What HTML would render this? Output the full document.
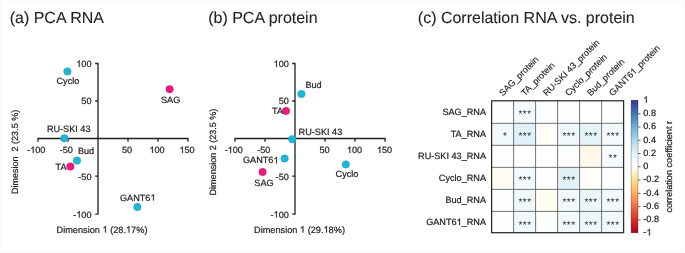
<!DOCTYPE html>
<html><head><meta charset="utf-8"><title>PCA and correlation</title>
<style>
html,body{margin:0;padding:0;background:#fbfbfb;}
body{width:685px;height:253px;overflow:hidden;font-family:"Liberation Sans",sans-serif;}
svg{display:block;will-change:transform;font-family:"Liberation Sans",sans-serif;}
text{fill:#231f20;white-space:pre;text-rendering:geometricPrecision;}
.t{font-size:16px;stroke:#231f20;stroke-width:0.1px;}
.s{font-size:9.15px;stroke:#231f20;stroke-width:0.22px;}
.ax{stroke:#231f20;stroke-width:1.3;fill:none;}
.h{fill:none;stroke:none;}
.one{fill:#231f20;stroke:#231f20;stroke-width:0.3px;}
.st{font-size:10px;text-anchor:middle;letter-spacing:0.5px;fill:#2e2e2e;}
</style></head><body>
<svg width="685" height="253" viewBox="0 0 685 253">
<rect x="2" y="1.5" width="681.5" height="249.5" fill="#ffffff"></rect>

<g transform="translate(-0.5 0)">
<text class="t" x="10.2" y="23">(a) PCA RNA</text>
<path class="ax" transform="translate(0.5 0)" d="M38 141.7V138.5H188V141.7M68 138.5v3.2M128 138.5v3.2M158 138.5v3.2M95.2 63.5H98V214.1H95.2M98 101h-2.8M98 176.2h-2.8"></path>
<text class="s" x="36.8" y="153" text-anchor="middle">-<tspan class="h">1</tspan>00</text><path class="one" d="M763 0H583V1147Q518 1085 412.5 1023T223 930V1104Q373 1174.5 485.5 1275T647 1466H763Z" vector-effect="non-scaling-stroke" transform="translate(30.706 153.000) scale(0.004468 -0.004468)" style="stroke-width: 0.22px;"></path>
<text class="s" x="66.8" y="153" text-anchor="middle">-50</text>
<text class="s" x="127.5" y="153" text-anchor="middle">50</text>
<text class="s" x="157.5" y="153" text-anchor="middle"><tspan class="h">1</tspan>00</text><path class="one" d="M763 0H583V1147Q518 1085 412.5 1023T223 930V1104Q373 1174.5 485.5 1275T647 1466H763Z" vector-effect="non-scaling-stroke" transform="translate(149.883 153.000) scale(0.004468 -0.004468)" style="stroke-width: 0.22px;"></path>
<text class="s" x="187.5" y="153" text-anchor="middle"><tspan class="h">1</tspan>50</text><path class="one" d="M763 0H583V1147Q518 1085 412.5 1023T223 930V1104Q373 1174.5 485.5 1275T647 1466H763Z" vector-effect="non-scaling-stroke" transform="translate(179.883 153.000) scale(0.004468 -0.004468)" style="stroke-width: 0.22px;"></path>
<text class="s" x="92" y="66.9" text-anchor="end"><tspan class="h">1</tspan>00</text><path class="one" d="M763 0H583V1147Q518 1085 412.5 1023T223 930V1104Q373 1174.5 485.5 1275T647 1466H763Z" vector-effect="non-scaling-stroke" transform="translate(76.766 66.900) scale(0.004468 -0.004468)" style="stroke-width: 0.22px;"></path>
<text class="s" x="92" y="104.4" text-anchor="end">50</text>
<text class="s" x="92" y="179.6" text-anchor="end">-50</text>
<text class="s" x="92" y="217.5" text-anchor="end">-<tspan class="h">1</tspan>00</text><path class="one" d="M763 0H583V1147Q518 1085 412.5 1023T223 930V1104Q373 1174.5 485.5 1275T647 1466H763Z" vector-effect="non-scaling-stroke" transform="translate(76.766 217.500) scale(0.004468 -0.004468)" style="stroke-width: 0.22px;"></path>
<text class="s" style="font-size:9.03px" transform="translate(18.0 194.0) rotate(-90)">Dimesion  2 (23.5 %)</text>
<text class="s" style="font-size:9.2px" x="57" y="232.6">Dimension <tspan class="h">1</tspan> (28.<tspan class="h">1</tspan>7%)</text><path class="one" d="M763 0H583V1147Q518 1085 412.5 1023T223 930V1104Q373 1174.5 485.5 1275T647 1466H763Z" vector-effect="non-scaling-stroke" transform="translate(102.969 232.600) scale(0.004492 -0.004492)" style="stroke-width: 0.22px;"></path><path class="one" d="M763 0H583V1147Q518 1085 412.5 1023T223 930V1104Q373 1174.5 485.5 1275T647 1466H763Z" vector-effect="non-scaling-stroke" transform="translate(126.484 232.600) scale(0.004492 -0.004492)" style="stroke-width: 0.22px;"></path>
<circle cx="67.9" cy="71.4" r="3.75" fill="#1cb6d9" stroke="#1794b5" stroke-width="0.4"></circle>
<text class="s" x="57" y="83.6">Cyclo</text>
<circle cx="170.1" cy="89.2" r="3.75" fill="#ee1880" stroke="#c5125f" stroke-width="0.4"></circle>
<text class="s" x="161.5" y="103">SAG</text>
<circle cx="64.9" cy="138.3" r="3.75" fill="#1cb6d9" stroke="#1794b5" stroke-width="0.4"></circle>
<text class="s" x="47.4" y="132">RU-SKI 43</text>
<circle cx="70.9" cy="166.6" r="3.75" fill="#ee1880" stroke="#c5125f" stroke-width="0.4"></circle>
<text class="s" x="56" y="170">TA</text>
<circle cx="77.5" cy="160.6" r="3.75" fill="#1cb6d9" stroke="#1794b5" stroke-width="0.4"></circle>
<text class="s" x="78.4" y="154.4">Bud</text>
<circle cx="137.9" cy="207" r="3.75" fill="#1cb6d9" stroke="#1794b5" stroke-width="0.4"></circle>
<text class="s" x="120.5" y="200.6">GANT6<tspan class="h">1</tspan></text><path class="one" d="M763 0H583V1147Q518 1085 412.5 1023T223 930V1104Q373 1174.5 485.5 1275T647 1466H763Z" vector-effect="non-scaling-stroke" transform="translate(150.938 200.600) scale(0.004468 -0.004468)" style="stroke-width: 0.22px;"></path>
</g>
<g transform="translate(0 0)">
<text class="t" x="208.2" y="23">(b) PCA protein</text>
<path class="ax" transform="translate(0 0)" d="M235 141.7V138.5H385V141.7M265 138.5v3.2M325 138.5v3.2M355 138.5v3.2M292.2 63.5H295V214.1H292.2M295 101h-2.8M295 176.2h-2.8"></path>
<text class="s" x="233.8" y="153" text-anchor="middle">-<tspan class="h">1</tspan>00</text><path class="one" d="M763 0H583V1147Q518 1085 412.5 1023T223 930V1104Q373 1174.5 485.5 1275T647 1466H763Z" vector-effect="non-scaling-stroke" transform="translate(227.706 153.000) scale(0.004468 -0.004468)" style="stroke-width: 0.22px;"></path>
<text class="s" x="263.8" y="153" text-anchor="middle">-50</text>
<text class="s" x="324.5" y="153" text-anchor="middle">50</text>
<text class="s" x="354.5" y="153" text-anchor="middle"><tspan class="h">1</tspan>00</text><path class="one" d="M763 0H583V1147Q518 1085 412.5 1023T223 930V1104Q373 1174.5 485.5 1275T647 1466H763Z" vector-effect="non-scaling-stroke" transform="translate(346.883 153.000) scale(0.004468 -0.004468)" style="stroke-width: 0.22px;"></path>
<text class="s" x="384.5" y="153" text-anchor="middle"><tspan class="h">1</tspan>50</text><path class="one" d="M763 0H583V1147Q518 1085 412.5 1023T223 930V1104Q373 1174.5 485.5 1275T647 1466H763Z" vector-effect="non-scaling-stroke" transform="translate(376.883 153.000) scale(0.004468 -0.004468)" style="stroke-width: 0.22px;"></path>
<text class="s" x="288.8" y="66.9" text-anchor="end"><tspan class="h">1</tspan>00</text><path class="one" d="M763 0H583V1147Q518 1085 412.5 1023T223 930V1104Q373 1174.5 485.5 1275T647 1466H763Z" vector-effect="non-scaling-stroke" transform="translate(273.566 66.900) scale(0.004468 -0.004468)" style="stroke-width: 0.22px;"></path>
<text class="s" x="288.8" y="104.4" text-anchor="end">50</text>
<text class="s" x="288.8" y="179.6" text-anchor="end">-50</text>
<text class="s" x="288.8" y="217.5" text-anchor="end">-<tspan class="h">1</tspan>00</text><path class="one" d="M763 0H583V1147Q518 1085 412.5 1023T223 930V1104Q373 1174.5 485.5 1275T647 1466H763Z" vector-effect="non-scaling-stroke" transform="translate(273.566 217.500) scale(0.004468 -0.004468)" style="stroke-width: 0.22px;"></path>
<text class="s" style="font-size:9.03px" transform="translate(216.3 195.4) rotate(-90)">Dimension 2 (23.5 %)</text>
<text class="s" style="font-size:9.2px" x="254" y="232.6">Dimension <tspan class="h">1</tspan> (29.<tspan class="h">1</tspan>8%)</text><path class="one" d="M763 0H583V1147Q518 1085 412.5 1023T223 930V1104Q373 1174.5 485.5 1275T647 1466H763Z" vector-effect="non-scaling-stroke" transform="translate(299.969 232.600) scale(0.004492 -0.004492)" style="stroke-width: 0.22px;"></path><path class="one" d="M763 0H583V1147Q518 1085 412.5 1023T223 930V1104Q373 1174.5 485.5 1275T647 1466H763Z" vector-effect="non-scaling-stroke" transform="translate(323.484 232.600) scale(0.004492 -0.004492)" style="stroke-width: 0.22px;"></path>
<circle cx="301.4" cy="94" r="3.75" fill="#1cb6d9" stroke="#1794b5" stroke-width="0.4"></circle>
<text class="s" x="305.4" y="88">Bud</text>
<circle cx="286" cy="111" r="3.75" fill="#ee1880" stroke="#c5125f" stroke-width="0.4"></circle>
<text class="s" x="272" y="114.4">TA</text>
<circle cx="292.2" cy="139.2" r="3.75" fill="#1cb6d9" stroke="#1794b5" stroke-width="0.4"></circle>
<text class="s" x="298.6" y="134.8">RU-SKI 43</text>
<circle cx="284.6" cy="158.6" r="3.75" fill="#1cb6d9" stroke="#1794b5" stroke-width="0.4"></circle>
<text class="s" x="243" y="163.4">GANT6<tspan class="h">1</tspan></text><path class="one" d="M763 0H583V1147Q518 1085 412.5 1023T223 930V1104Q373 1174.5 485.5 1275T647 1466H763Z" vector-effect="non-scaling-stroke" transform="translate(273.438 163.400) scale(0.004468 -0.004468)" style="stroke-width: 0.22px;"></path>
<circle cx="262.6" cy="172" r="3.75" fill="#ee1880" stroke="#c5125f" stroke-width="0.4"></circle>
<text class="s" x="254.3" y="185.6">SAG</text>
<circle cx="345.8" cy="164.4" r="3.75" fill="#1cb6d9" stroke="#1794b5" stroke-width="0.4"></circle>
<text class="s" x="335.6" y="176.6">Cyclo</text>
</g>
<text class="t" x="417.8" y="23">(c) Correlation RNA vs. protein</text>
<rect x="491.60" y="100.80" width="22.0" height="22.52" fill="#fffefc"></rect>
<rect x="513.60" y="100.80" width="22.0" height="22.52" fill="#f5fbfd"></rect>
<rect x="535.60" y="100.80" width="22.0" height="22.52" fill="#fcfdfe"></rect>
<rect x="557.60" y="100.80" width="22.0" height="22.52" fill="#fbfdfe"></rect>
<rect x="579.60" y="100.80" width="22.0" height="22.52" fill="#ffffff"></rect>
<rect x="601.60" y="100.80" width="22.0" height="22.52" fill="#fcfefe"></rect>
<rect x="491.60" y="123.32" width="22.0" height="22.02" fill="#f1f9fc"></rect>
<rect x="513.60" y="123.32" width="22.0" height="22.02" fill="#dff1f8"></rect>
<rect x="535.60" y="123.32" width="22.0" height="22.02" fill="#fffdf8"></rect>
<rect x="557.60" y="123.32" width="22.0" height="22.02" fill="#eff8fb"></rect>
<rect x="579.60" y="123.32" width="22.0" height="22.02" fill="#e5f4f9"></rect>
<rect x="601.60" y="123.32" width="22.0" height="22.02" fill="#f4fafc"></rect>
<rect x="491.60" y="145.34" width="22.0" height="22.02" fill="#fffefc"></rect>
<rect x="513.60" y="145.34" width="22.0" height="22.02" fill="#ffffff"></rect>
<rect x="535.60" y="145.34" width="22.0" height="22.02" fill="#ffffff"></rect>
<rect x="557.60" y="145.34" width="22.0" height="22.02" fill="#fcfdfe"></rect>
<rect x="579.60" y="145.34" width="22.0" height="22.02" fill="#fff8ea"></rect>
<rect x="601.60" y="145.34" width="22.0" height="22.02" fill="#f6fbfd"></rect>
<rect x="491.60" y="167.36" width="22.0" height="22.02" fill="#fffcf1"></rect>
<rect x="513.60" y="167.36" width="22.0" height="22.02" fill="#f3fafe"></rect>
<rect x="535.60" y="167.36" width="22.0" height="22.02" fill="#ffffff"></rect>
<rect x="557.60" y="167.36" width="22.0" height="22.02" fill="#e1f2f8"></rect>
<rect x="579.60" y="167.36" width="22.0" height="22.02" fill="#fffdf9"></rect>
<rect x="601.60" y="167.36" width="22.0" height="22.02" fill="#fcfdfe"></rect>
<rect x="491.60" y="189.38" width="22.0" height="22.02" fill="#fbfdfe"></rect>
<rect x="513.60" y="189.38" width="22.0" height="22.02" fill="#eff8fb"></rect>
<rect x="535.60" y="189.38" width="22.0" height="22.02" fill="#fffcf2"></rect>
<rect x="557.60" y="189.38" width="22.0" height="22.02" fill="#f1f9fc"></rect>
<rect x="579.60" y="189.38" width="22.0" height="22.02" fill="#ebf6fa"></rect>
<rect x="601.60" y="189.38" width="22.0" height="22.02" fill="#f1f9fc"></rect>
<rect x="491.60" y="211.40" width="22.0" height="21.30" fill="#fcfefe"></rect>
<rect x="513.60" y="211.40" width="22.0" height="21.30" fill="#f0f9fc"></rect>
<rect x="535.60" y="211.40" width="22.0" height="21.30" fill="#fdfefe"></rect>
<rect x="557.60" y="211.40" width="22.0" height="21.30" fill="#f3fafc"></rect>
<rect x="579.60" y="211.40" width="22.0" height="21.30" fill="#edf7fb"></rect>
<rect x="601.60" y="211.40" width="22.0" height="21.30" fill="#f1f9fc"></rect>
<path d="M513.60 100.8V232.7M491.6 123.32h132.00M535.60 100.8V232.7M491.6 145.34h132.00M557.60 100.8V232.7M491.6 167.36h132.00M579.60 100.8V232.7M491.6 189.38h132.00M601.60 100.8V232.7M491.6 211.40h132.00" stroke="#454545" stroke-width="0.75" fill="none"></path>
<rect x="491.6" y="100.8" width="132.0" height="131.90" fill="none" stroke="#2b2b2b" stroke-width="1.25"></rect>
<text class="st" x="525.00" y="117.00">***</text>
<text class="st" x="505.30" y="139.10">*</text>
<text class="st" x="525.00" y="139.10">***</text>
<text class="st" x="569.00" y="139.10">***</text>
<text class="st" x="591.00" y="139.10">***</text>
<text class="st" x="613.00" y="139.10">***</text>
<text class="st" x="613.00" y="161.20">**</text>
<text class="st" x="525.00" y="183.30">***</text>
<text class="st" x="569.00" y="183.30">***</text>
<text class="st" x="525.00" y="205.40">***</text>
<text class="st" x="569.00" y="205.40">***</text>
<text class="st" x="591.00" y="205.40">***</text>
<text class="st" x="613.00" y="205.40">***</text>
<text class="st" x="525.00" y="227.50">***</text>
<text class="st" x="569.00" y="227.50">***</text>
<text class="st" x="591.00" y="227.50">***</text>
<text class="st" x="613.00" y="227.50">***</text>
<text class="s" x="486" y="114.80" text-anchor="end">SAG_RNA</text>
<text class="s" x="486" y="136.84" text-anchor="end">TA_RNA</text>
<text class="s" x="486" y="158.88" text-anchor="end">RU-SKI 43_RNA</text>
<text class="s" x="486" y="180.92" text-anchor="end">Cyclo_RNA</text>
<text class="s" x="486" y="202.96" text-anchor="end">Bud_RNA</text>
<text class="s" x="486" y="225.00" text-anchor="end">GANT6<tspan class="h">1</tspan>_RNA</text><path class="one" d="M763 0H583V1147Q518 1085 412.5 1023T223 930V1104Q373 1174.5 485.5 1275T647 1466H763Z" vector-effect="non-scaling-stroke" transform="translate(456.578 225.000) scale(0.004468 -0.004468)" style="stroke-width: 0.22px;"></path>
<text class="s" style="font-size:9px;stroke-width:0.15px" transform="translate(502.70 96.5) rotate(-45)">SAG_protein</text>
<text class="s" style="font-size:9px;stroke-width:0.15px" transform="translate(524.70 96.5) rotate(-45)">TA_protein</text>
<text class="s" style="font-size:9px;stroke-width:0.15px" transform="translate(546.70 96.5) rotate(-45)">RU-SKI 43_protein</text>
<text class="s" style="font-size:9px;stroke-width:0.15px" transform="translate(568.70 96.5) rotate(-45)">Cyclo_protein</text>
<text class="s" style="font-size:9px;stroke-width:0.15px" transform="translate(590.70 96.5) rotate(-45)">Bud_protein</text>
<text class="s" style="font-size:9px;stroke-width:0.15px" transform="translate(612.70 96.5) rotate(-45)">GANT6<tspan class="h">1</tspan>_protein</text><path class="one" d="M763 0H583V1147Q518 1085 412.5 1023T223 930V1104Q373 1174.5 485.5 1275T647 1466H763Z" vector-effect="non-scaling-stroke" transform="translate(612.70 96.5) rotate(-45) translate(30.016 0.000) scale(0.004395 -0.004395)" style="stroke-width: 0.15px;"></path>
<defs><linearGradient id="cb" x1="0" y1="0" x2="0" y2="1">
<stop offset="0" stop-color="#313695"></stop><stop offset="0.1" stop-color="#4575b4"></stop><stop offset="0.2" stop-color="#74add1"></stop>
<stop offset="0.3" stop-color="#abd9e9"></stop><stop offset="0.4" stop-color="#e0f3f8"></stop><stop offset="0.5" stop-color="#ffffff"></stop>
<stop offset="0.6" stop-color="#fee090"></stop><stop offset="0.7" stop-color="#fdae61"></stop><stop offset="0.8" stop-color="#f46d43"></stop>
<stop offset="0.9" stop-color="#d73027"></stop><stop offset="1" stop-color="#a50026"></stop></linearGradient></defs>
<rect x="631.1" y="100.2" width="6.9" height="132.6" fill="url(#cb)" stroke="#000" stroke-opacity="0.45" stroke-width="0.6"></rect>
<text class="s" x="643.3" y="102.70"><tspan class="h">1</tspan></text><path class="one" d="M763 0H583V1147Q518 1085 412.5 1023T223 930V1104Q373 1174.5 485.5 1275T647 1466H763Z" vector-effect="non-scaling-stroke" transform="translate(643.300 102.700) scale(0.004468 -0.004468)" style="stroke-width: 0.22px;"></path>
<text class="s" x="643.3" y="115.97">0.8</text>
<text class="s" x="643.3" y="129.24">0.6</text>
<text class="s" x="643.3" y="142.51">0.4</text>
<text class="s" x="643.3" y="155.78">0.2</text>
<text class="s" x="643.3" y="169.05">0</text>
<text class="s" x="643.3" y="182.32">-0.2</text>
<text class="s" x="643.3" y="195.59">-0.4</text>
<text class="s" x="643.3" y="208.86">-0.6</text>
<text class="s" x="643.3" y="222.13">-0.8</text>
<text class="s" x="643.3" y="235.40">-<tspan class="h">1</tspan></text><path class="one" d="M763 0H583V1147Q518 1085 412.5 1023T223 930V1104Q373 1174.5 485.5 1275T647 1466H763Z" vector-effect="non-scaling-stroke" transform="translate(646.347 235.400) scale(0.004468 -0.004468)" style="stroke-width: 0.22px;"></path>
<path d="M638.2 113.72h2.3M638.2 126.99h2.3M638.2 140.26h2.3M638.2 153.53h2.3M638.2 166.80h2.3M638.2 180.07h2.3M638.2 193.34h2.3M638.2 206.61h2.3M638.2 219.88h2.3" stroke="#333" stroke-width="0.8" fill="none"></path>
<text class="s" transform="translate(671.7 212.6) rotate(-90)">correlation coefficient r</text>
</svg></body></html>
